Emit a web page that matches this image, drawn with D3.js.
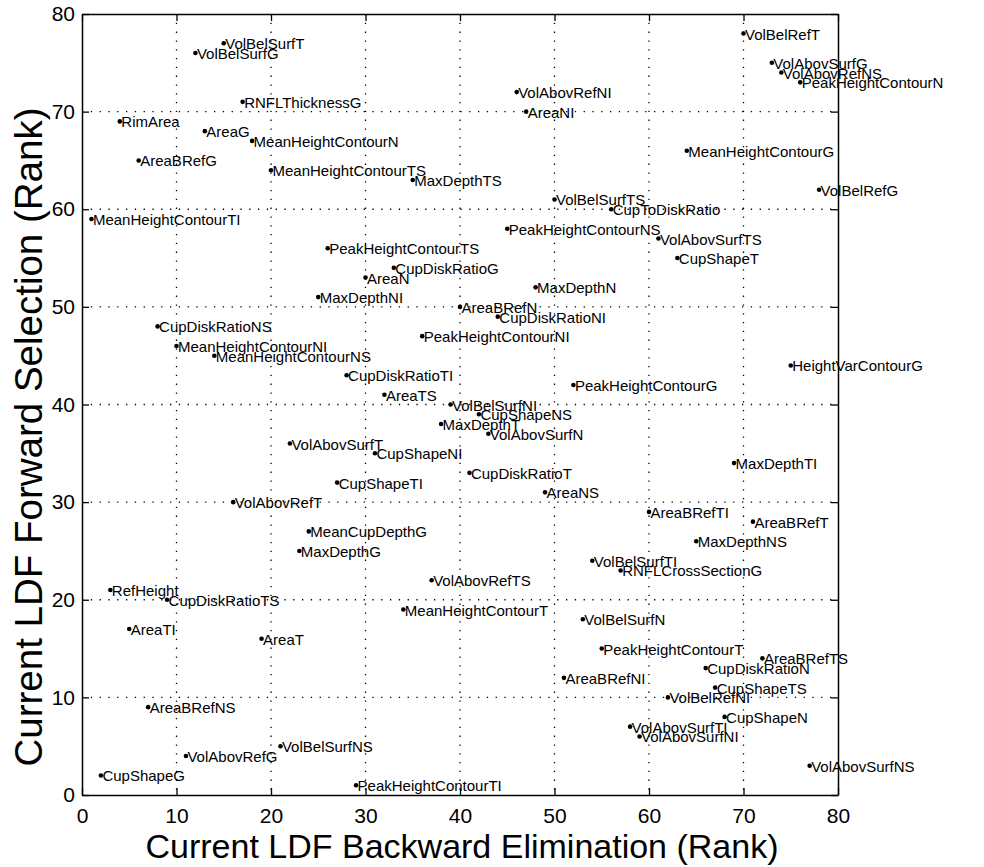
<!DOCTYPE html>
<html>
<head>
<meta charset="utf-8">
<script src="https://cdn.jsdelivr.net/npm/d3@7"></script>
<style>
  body { margin: 0; background: white; }
  text { font-family: 'Liberation Sans', Arial, Helvetica, sans-serif; fill: black; }
</style>
</head>
<body>
<div id="chart"></div>
<script>
// feature names, listed top to bottom as they sit in the plot
var features = ['VolBelRefT','VolBelSurfT','VolBelSurfG','VolAbovSurfG','VolAbovRefNS','PeakHeightContourN',
  'VolAbovRefNI','RNFLThicknessG','AreaNI','RimArea','AreaG','MeanHeightContourN','MeanHeightContourG',
  'AreaBRefG','MeanHeightContourTS','MaxDepthTS','VolBelRefG','VolBelSurfTS','CupToDiskRatio',
  'MeanHeightContourTI','PeakHeightContourNS','VolAbovSurfTS','PeakHeightContourTS','CupShapeT',
  'CupDiskRatioG','AreaN','MaxDepthN','MaxDepthNI','AreaBRefN','CupDiskRatioNI','CupDiskRatioNS',
  'PeakHeightContourNI','MeanHeightContourNI','MeanHeightContourNS','HeightVarContourG','CupDiskRatioTI',
  'PeakHeightContourG','AreaTS','VolBelSurfNI','CupShapeNS','MaxDepthT','VolAbovSurfN','VolAbovSurfT',
  'CupShapeNI','MaxDepthTI','CupDiskRatioT','CupShapeTI','AreaNS','VolAbovRefT','AreaBRefTI','AreaBRefT',
  'MeanCupDepthG','MaxDepthNS','MaxDepthG','VolBelSurfTI','RNFLCrossSectionG','VolAbovRefTS','RefHeight',
  'CupDiskRatioTS','MeanHeightContourT','VolBelSurfN','AreaTI','AreaT','PeakHeightContourT','AreaBRefTS',
  'CupDiskRatioN','AreaBRefNI','CupShapeTS','VolBelRefNI','AreaBRefNS','CupShapeN','VolAbovSurfTI',
  'VolAbovSurfNI','VolBelSurfNS','VolAbovRefG','VolAbovSurfNS','CupShapeG','PeakHeightContourTI'];

// rank under backward elimination (x)
var backwardRank = [70,15,12,73,74,76,46,17,47,4,13,18,64,6,20,35,78,50,56,1,45,61,26,63,33,30,48,25,40,44,8,
  36,10,14,75,28,52,32,39,42,38,43,22,31,69,41,27,49,16,60,71,24,65,23,54,57,37,3,9,34,53,5,19,55,72,66,51,
  67,62,7,68,58,59,21,11,77,2,29];

// rank under forward selection (y)
var forwardRank = [78,77,76,75,74,73,72,71,70,69,68,67,66,65,64,63,62,61,60,59,58,57,56,55,54,53,52,51,50,49,
  48,47,46,45,44,43,42,41,40,39,38,37,36,35,34,33,32,31,30,29,28,27,26,25,24,23,22,21,20,19,18,17,16,15,14,13,
  12,11,10,9,8,7,6,5,4,3,2,1];

var tickValues = [0,10,20,30,40,50,60,70,80];

function drawChart(){
  var width = 984, height = 867;
  var plotLeft = 82, plotRight = 838, plotTop = 14, plotBottom = 795;

  var points = features.map(function(name, i){
    return {name: name, x: backwardRank[i], y: forwardRank[i]};
  });

  var svg = d3.select('#chart')
    .append('svg')
    .attr('width', width)
    .attr('height', height)
    .style('background-color', 'white');

  var scaleX = d3.scaleLinear().domain([0, 80]).range([plotLeft, plotRight]);
  var scaleY = d3.scaleLinear().domain([0, 80]).range([plotBottom, plotTop]);

  // dotted grid
  var inner = tickValues.slice(1, -1);
  var grid = svg.append('g').attr('class', 'grid');
  grid.selectAll('line.gx')
    .data(inner)
    .enter()
    .append('line')
    .attr('class', 'gx')
    .attr('x1', function(d){ return scaleX(d); })
    .attr('x2', function(d){ return scaleX(d); })
    .attr('y1', plotTop)
    .attr('y2', plotBottom);

  grid.selectAll('line.gy')
    .data(inner)
    .enter()
    .append('line')
    .attr('class', 'gy')
    .attr('x1', plotLeft)
    .attr('x2', plotRight)
    .attr('y1', function(d){ return scaleY(d); })
    .attr('y2', function(d){ return scaleY(d); });

  grid.selectAll('line')
    .style('stroke', 'black')
    .style('stroke-width', 1.3)
    .style('stroke-dasharray', '1.3,7.5');

  // points and labels
  var marks = svg.append('g')
    .attr('class', 'marks')
    .selectAll('g')
    .data(points)
    .enter()
    .append('g');

  marks.append('circle')
    .attr('cx', function(d){ return scaleX(d.x); })
    .attr('cy', function(d){ return scaleY(d.y); })
    .attr('r', 2.3)
    .style('fill', 'black');

  marks.append('text')
    .attr('x', function(d){ return scaleX(d.x) + 1.5; })
    .attr('y', function(d){ return scaleY(d.y) + 6; })
    .style('font-size', '15px')
    .text(function(d){ return d.name; });

  // axes, ticks pointing inwards on all four sides
  var axisB = svg.append('g')
    .attr('transform', 'translate(0,' + plotBottom + ')')
    .call(d3.axisBottom(scaleX).tickValues(tickValues).tickSizeInner(-7).tickSizeOuter(0).tickPadding(13));
  var axisL = svg.append('g')
    .attr('transform', 'translate(' + plotLeft + ',0)')
    .call(d3.axisLeft(scaleY).tickValues(tickValues).tickSizeInner(-7).tickSizeOuter(0).tickPadding(7));
  var axisT = svg.append('g')
    .attr('transform', 'translate(0,' + plotTop + ')')
    .call(d3.axisTop(scaleX).tickValues(tickValues).tickSizeInner(-7).tickSizeOuter(0).tickFormat(''));
  var axisR = svg.append('g')
    .attr('transform', 'translate(' + plotRight + ',0)')
    .call(d3.axisRight(scaleY).tickValues(tickValues).tickSizeInner(-7).tickSizeOuter(0).tickFormat(''));

  [axisB, axisL, axisT, axisR].forEach(function(a){
    a.attr('font-size', null).attr('font-family', null);
    a.selectAll('.domain').style('stroke', 'black').style('stroke-width', 1.5);
    a.selectAll('.tick line').style('stroke', 'black').style('stroke-width', 1.3);
    a.selectAll('.tick text')
      .style('font-size', '21px')
      .style('fill', 'black');
  });

  // axis titles
  svg.append('text')
    .attr('x', 462)
    .attr('y', 858)
    .attr('text-anchor', 'middle')
    .style('font-size', '34px')
    .text('Current LDF Backward Elimination (Rank)');

  svg.append('text')
    .attr('transform', 'translate(42,437) rotate(-90)')
    .attr('text-anchor', 'middle')
    .style('font-size', '38.5px')
    .text('Current LDF Forward Selection (Rank)');
}

drawChart();
</script>
</body>
</html>
